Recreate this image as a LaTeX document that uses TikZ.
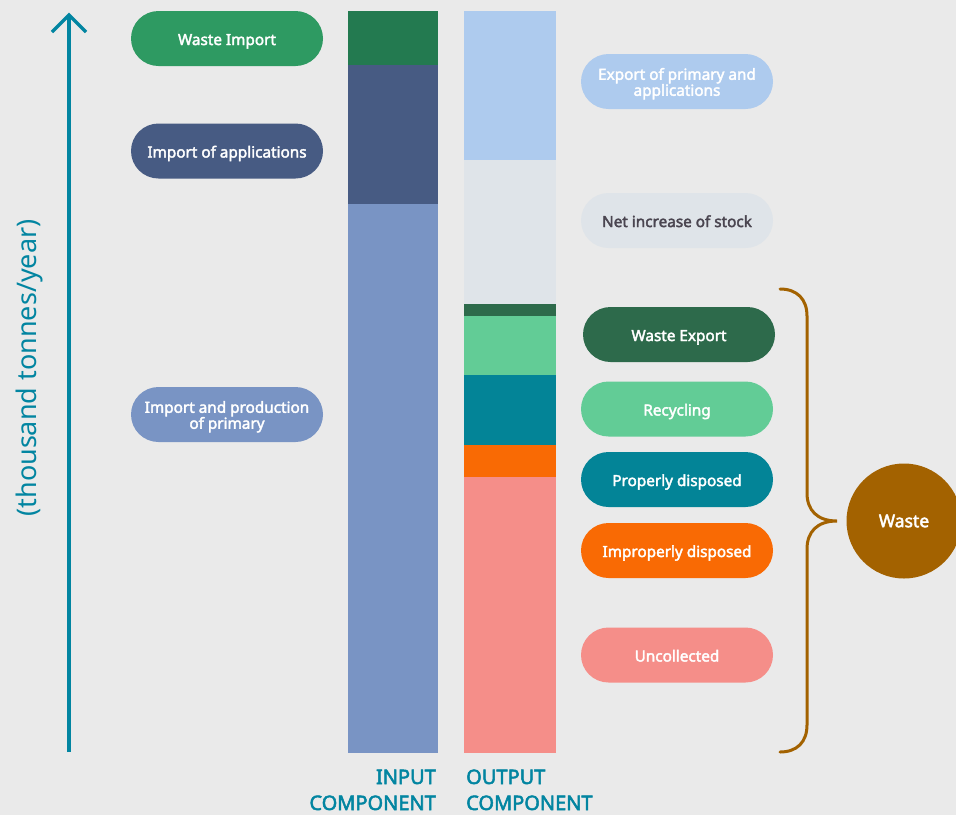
\documentclass[tikz,border=0pt]{standalone}
\usepackage{fontspec}
\setmainfont{Noto Sans}
\newfontfamily\medfont{Noto Sans}[FakeBold=2.5]
\definecolor{bg}{HTML}{EAEAEA}
\definecolor{axisc}{HTML}{0285A1}
\definecolor{wimpbar}{HTML}{237A50}
\definecolor{wimp}{HTML}{2E9A62}
\definecolor{appl}{HTML}{475B83}
\definecolor{prim}{HTML}{7994C4}
\definecolor{expo}{HTML}{AECBEE}
\definecolor{stock}{HTML}{DFE4E9}
\definecolor{stocktxt}{HTML}{4A4550}
\definecolor{wexp}{HTML}{2D6A4B}
\definecolor{recy}{HTML}{62CC96}
\definecolor{prop}{HTML}{038497}
\definecolor{impr}{HTML}{F96A04}
\definecolor{uncol}{HTML}{F58E89}
\definecolor{wastec}{HTML}{A36200}
\begin{document}
\begin{tikzpicture}[x=1pt,y=-1pt,
  pill/.style={rectangle, rounded corners=27.5pt, minimum width=192pt, minimum height=55pt, inner sep=0pt, text=white, font=\medfont\fontsize{15.3}{16}\selectfont, align=center, text height=13pt, text depth=0pt},
  pilltwo/.style={pill, text height=28.5pt, text depth=0pt},
  axisline/.style={line width=3.5pt, draw=axisc},
  lbl/.style={text=axisc, font=\medfont\fontsize{20}{26}\selectfont, inner sep=0pt},
  bracestyle/.style={draw=wastec, line width=3pt, line cap=round}]
\fill[bg] (0,0) rectangle (956,815);
\useasboundingbox (0,0) rectangle (956,815);
% input bar
\fill[wimpbar] (348,11) rectangle (438,65);
\fill[appl] (348,65) rectangle (438,204);
\fill[prim] (348,204) rectangle (438,753);
% output bar
\fill[expo] (464,11) rectangle (556,160);
\fill[stock] (464,160) rectangle (556,304);
\fill[wexp] (464,304) rectangle (556,316);
\fill[recy] (464,316) rectangle (556,375);
\fill[prop] (464,375) rectangle (556,445);
\fill[impr] (464,445) rectangle (556,477);
\fill[uncol] (464,477) rectangle (556,753);
% axis
\coordinate (ab) at (69,752);
\coordinate (at) at (69,15);
\draw[axisline] (ab) -- (at);
\draw[axisline, line join=miter] (52,32) -- (at) -- (86,32);
\node[rotate=90, text=axisc, inner sep=0pt, font=\fontsize{27}{30}\selectfont] (ylab) at (29,368) {(thousand tonnes/year)};
% left pills
\node[pill, fill=wimp] (wimpn) at (227,38.5) {Waste Import};
\node[pill, fill=appl] (appn) at (227,151) {Import of applications};
\node[pilltwo, fill=prim] (primn) at (227,414.5) {Import and production\\of primary};
% right pills
\node[pilltwo, fill=expo] (expn) at (677,81.5) {Export of primary and\\applications};
\node[pill, fill=stock, text=stocktxt] (stockn) at (677,220.5) {Net increase of stock};
\node[pill, fill=wexp] (wexpn) at (679,334.5) {Waste Export};
\node[pill, fill=recy] (recyn) at (677,409) {Recycling};
\node[pill, fill=prop] (propn) at (677,479.5) {Properly disposed};
\node[pill, fill=impr] (imprn) at (677,550.5) {Improperly disposed};
\node[pill, fill=uncol] (uncoln) at (677,655) {Uncollected};
% brace
\coordinate (btop) at (780,289);
\coordinate (btip) at (837,521);
\coordinate (bbot) at (780,752);
\draw[bracestyle] (btop) .. controls (797,289) and (807,299) .. (807,316) -- (807,493) .. controls (807,510) and (817,521) .. (btip) .. controls (817,521) and (807,532) .. (807,549) -- (807,725) .. controls (807,742) and (797,752) .. (bbot);
\node[circle, fill=wastec, minimum size=115pt, inner sep=0pt, text=white, font=\medfont\fontsize{17.5}{18}\selectfont] (waste) at (904,521) {Waste};
% labels
\node[lbl, anchor=base east, align=right] (inl) at (436,810) {INPUT\\COMPONENT};
\node[lbl, anchor=base west, align=left] (outl) at (466,810) {OUTPUT\\COMPONENT};
\end{tikzpicture}
\end{document}
